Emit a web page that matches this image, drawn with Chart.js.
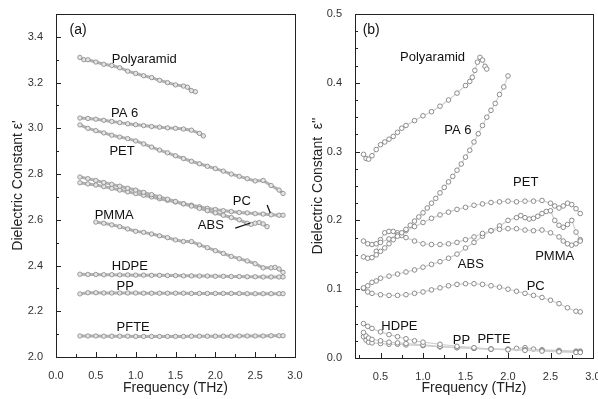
<!DOCTYPE html>
<html>
<head>
<meta charset="utf-8">
<script src="https://cdn.jsdelivr.net/npm/chart.js@4.4.1/dist/chart.umd.min.js"></script>
<style>
  html, body { margin: 0; padding: 0; background: #fff; overflow: hidden; width: 598px; height: 399px; }
  #wrap { position: relative; width: 598px; height: 399px; overflow: hidden; }
  canvas { position: absolute; top: 0; }
  #chart-a { left: 0; }
  #chart-b { left: 300px; }
</style>
</head>
<body>
<div id="wrap">
  <canvas id="chart-a" width="310" height="399"></canvas>
  <canvas id="chart-b" width="310" height="399"></canvas>
</div>
<script>
// ---------- panel (a): real part, eps' ----------
const freqA = [0.3, 0.4, 0.5, 0.6, 0.7, 0.8, 0.9, 1.0, 1.1, 1.2, 1.3, 1.4, 1.5, 1.6, 1.7, 1.8, 1.9, 2.0, 2.1, 2.2, 2.3, 2.4, 2.5, 2.6, 2.7, 2.8, 2.85];

const polyaramidA_f = [0.3, 0.35, 0.4, 0.5, 0.6, 0.7, 0.8, 0.9, 1.0, 1.1, 1.2, 1.3, 1.4, 1.5, 1.6, 1.65, 1.7, 1.75];
const polyaramidA = [3.31, 3.30, 3.30, 3.29, 3.28, 3.275, 3.265, 3.25, 3.24, 3.23, 3.222, 3.21, 3.20, 3.19, 3.185, 3.18, 3.165, 3.16];

const pa6A_f = [0.3, 0.4, 0.5, 0.6, 0.7, 0.8, 0.9, 1.0, 1.1, 1.2, 1.3, 1.4, 1.5, 1.6, 1.7, 1.8, 1.85];
const pa6A = [3.045, 3.043, 3.04, 3.035, 3.03, 3.025, 3.02, 3.016, 3.012, 3.008, 3.005, 3.002, 3.0, 2.997, 2.992, 2.978, 2.967];

const petA = [3.015, 3.0, 2.99, 2.98, 2.97, 2.962, 2.955, 2.945, 2.932, 2.918, 2.905, 2.893, 2.88, 2.868, 2.856, 2.845, 2.834, 2.824, 2.813, 2.80, 2.79, 2.78, 2.77, 2.772, 2.75, 2.73, 2.715];

const absA_f = [0.3, 0.4, 0.5, 0.6, 0.7, 0.8, 0.9, 1.0, 1.1, 1.2, 1.3, 1.4, 1.5, 1.6, 1.7, 1.8, 1.9, 2.0, 2.1, 2.2, 2.3, 2.4, 2.45, 2.5, 2.55, 2.6, 2.65];
const absA = [2.787, 2.78, 2.772, 2.763, 2.755, 2.747, 2.738, 2.73, 2.72, 2.71, 2.70, 2.69, 2.68, 2.67, 2.66, 2.65, 2.64, 2.63, 2.62, 2.61, 2.60, 2.585, 2.58, 2.585, 2.588, 2.582, 2.57];

const pcA = [2.762, 2.757, 2.752, 2.745, 2.738, 2.73, 2.722, 2.715, 2.707, 2.70, 2.692, 2.685, 2.678, 2.67, 2.664, 2.657, 2.65, 2.645, 2.64, 2.636, 2.632, 2.63, 2.627, 2.625, 2.622, 2.62, 2.62];

const pmmaA_f = [0.5, 0.6, 0.7, 0.8, 0.9, 1.0, 1.1, 1.2, 1.3, 1.4, 1.5, 1.6, 1.7, 1.8, 1.9, 2.0, 2.1, 2.2, 2.3, 2.4, 2.5, 2.6, 2.7, 2.75, 2.8, 2.85];
const pmmaA = [2.59, 2.585, 2.578, 2.57, 2.56, 2.55, 2.545, 2.538, 2.53, 2.522, 2.512, 2.505, 2.505, 2.49, 2.478, 2.465, 2.453, 2.44, 2.43, 2.42, 2.408, 2.39, 2.39, 2.392, 2.385, 2.37];

const hdpeA = [2.362, 2.361, 2.361, 2.36, 2.36, 2.359, 2.359, 2.358, 2.358, 2.357, 2.357, 2.356, 2.356, 2.355, 2.355, 2.354, 2.354, 2.353, 2.353, 2.352, 2.352, 2.351, 2.351, 2.35, 2.35, 2.35, 2.35];
const ppA = [2.276, 2.281, 2.281, 2.28, 2.28, 2.28, 2.28, 2.28, 2.279, 2.279, 2.279, 2.279, 2.279, 2.279, 2.278, 2.278, 2.278, 2.278, 2.278, 2.278, 2.278, 2.277, 2.277, 2.277, 2.277, 2.277, 2.277];
const pfteA = [2.092, 2.092, 2.092, 2.091, 2.091, 2.091, 2.091, 2.09, 2.09, 2.09, 2.09, 2.09, 2.09, 2.09, 2.091, 2.091, 2.091, 2.091, 2.091, 2.091, 2.092, 2.092, 2.092, 2.092, 2.093, 2.093, 2.093];

const xTicksA = [0.0, 0.5, 1.0, 1.5, 2.0, 2.5, 3.0];
const yTicksA = [2.0, 2.2, 2.4, 2.6, 2.8, 3.0, 3.2, 3.4];

// ---------- panel (b): imaginary part, eps'' ----------
const polyaramidB_f = [0.30, 0.33, 0.36, 0.40, 0.45, 0.50, 0.55, 0.60, 0.65, 0.70, 0.75, 0.80, 0.90, 1.00, 1.10, 1.20, 1.30, 1.40, 1.50, 1.55, 1.58, 1.61, 1.64, 1.67, 1.70, 1.73, 1.75];
const polyaramidB = [0.296, 0.29, 0.289, 0.294, 0.303, 0.31, 0.314, 0.318, 0.322, 0.328, 0.334, 0.338, 0.345, 0.352, 0.358, 0.366, 0.375, 0.385, 0.396, 0.402, 0.408, 0.418, 0.43, 0.437, 0.433, 0.424, 0.42];

const pa6B_f = [0.30, 0.35, 0.40, 0.45, 0.50, 0.55, 0.60, 0.65, 0.70, 0.75, 0.80, 0.85, 0.90, 0.95, 1.00, 1.05, 1.10, 1.15, 1.20, 1.25, 1.30, 1.35, 1.40, 1.45, 1.50, 1.55, 1.60, 1.65, 1.70, 1.75, 1.80, 1.85, 1.90, 1.95, 2.00];
const pa6B = [0.147, 0.145, 0.146, 0.15, 0.155, 0.16, 0.166, 0.172, 0.177, 0.182, 0.187, 0.193, 0.199, 0.205, 0.211, 0.218, 0.225, 0.232, 0.24, 0.248, 0.256, 0.264, 0.273, 0.282, 0.292, 0.302, 0.314, 0.326, 0.338, 0.35, 0.36, 0.37, 0.383, 0.394, 0.41];

const petB_f = [0.3, 0.35, 0.4, 0.45, 0.5, 0.6, 0.7, 0.8, 0.9, 1.0, 1.1, 1.2, 1.3, 1.4, 1.5, 1.6, 1.7, 1.8, 1.9, 2.0, 2.1, 2.2, 2.3, 2.4, 2.5, 2.55, 2.6, 2.65, 2.7, 2.75, 2.8, 2.85];
const petB = [0.17, 0.166, 0.165, 0.166, 0.168, 0.173, 0.179, 0.185, 0.191, 0.197, 0.203, 0.208, 0.212, 0.216, 0.219, 0.222, 0.224, 0.226, 0.227, 0.228, 0.227, 0.228, 0.228, 0.229, 0.225, 0.221, 0.218, 0.221, 0.225, 0.223, 0.217, 0.21];

const pmmaB_f = [0.45, 0.5, 0.55, 0.6, 0.65, 0.7, 0.75, 0.8, 0.9, 1.0, 1.1, 1.2, 1.3, 1.4, 1.5, 1.6, 1.7, 1.8, 1.9, 2.0, 2.1, 2.2, 2.3, 2.4, 2.5, 2.6, 2.65, 2.7, 2.75, 2.8, 2.85];
const pmmaB = [0.155, 0.172, 0.182, 0.184, 0.184, 0.182, 0.178, 0.175, 0.17, 0.166, 0.165, 0.165, 0.166, 0.168, 0.172, 0.176, 0.181, 0.185, 0.187, 0.188, 0.188, 0.186, 0.185, 0.186, 0.182, 0.176, 0.17, 0.166, 0.164, 0.166, 0.17];

const absB_f = [0.3, 0.35, 0.4, 0.45, 0.5, 0.6, 0.7, 0.8, 0.9, 1.0, 1.1, 1.2, 1.3, 1.4, 1.5, 1.6, 1.7, 1.8, 1.9, 2.0, 2.1, 2.15, 2.2, 2.25, 2.3, 2.35, 2.4, 2.45, 2.5, 2.55, 2.6, 2.65, 2.7, 2.75, 2.8, 2.85];
const absB = [0.102, 0.105, 0.11, 0.112, 0.116, 0.119, 0.122, 0.125, 0.128, 0.132, 0.136, 0.14, 0.145, 0.151, 0.16, 0.168, 0.177, 0.185, 0.192, 0.2, 0.204, 0.207, 0.204, 0.202, 0.203, 0.206, 0.21, 0.213, 0.214, 0.2, 0.193, 0.19, 0.194, 0.2, 0.183, 0.172];

const pcB_f = [0.3, 0.35, 0.4, 0.5, 0.6, 0.7, 0.8, 0.9, 1.0, 1.1, 1.2, 1.3, 1.4, 1.5, 1.6, 1.7, 1.8, 1.9, 2.0, 2.1, 2.2, 2.3, 2.4, 2.5, 2.6, 2.7, 2.8, 2.85];
const pcB = [0.101, 0.096, 0.094, 0.092, 0.091, 0.091, 0.092, 0.094, 0.096, 0.099, 0.102, 0.105, 0.107, 0.108, 0.108, 0.107, 0.105, 0.103, 0.1, 0.097, 0.094, 0.091, 0.088, 0.084, 0.079, 0.073, 0.068, 0.067];

const hdpeB_f = [0.3, 0.35, 0.4, 0.5, 0.6, 0.7, 0.8, 0.9, 1.0, 1.2, 1.4, 1.6, 1.8, 2.0, 2.2, 2.4, 2.6, 2.8, 2.85];
const hdpeB = [0.05, 0.046, 0.043, 0.038, 0.034, 0.031, 0.028, 0.025, 0.023, 0.02, 0.017, 0.015, 0.013, 0.012, 0.011, 0.01, 0.009, 0.008, 0.008];

const ppB_f = [0.3, 0.33, 0.36, 0.4, 0.5, 0.6, 0.7, 0.8, 1.0, 1.2, 1.4, 1.6, 1.8, 2.0, 2.2, 2.4, 2.6, 2.8, 2.85];
const ppB = [0.037, 0.032, 0.029, 0.027, 0.025, 0.023, 0.022, 0.021, 0.019, 0.017, 0.015, 0.014, 0.013, 0.012, 0.012, 0.011, 0.01, 0.009, 0.009];

const pfteB_f = [0.3, 0.33, 0.36, 0.4, 0.5, 0.6, 0.7, 0.8, 1.0, 1.2, 1.4, 1.6, 1.8, 2.0, 2.1, 2.2, 2.3, 2.4, 2.6, 2.8, 2.85];
const pfteB = [0.031, 0.026, 0.023, 0.022, 0.021, 0.02, 0.02, 0.019, 0.018, 0.016, 0.015, 0.014, 0.013, 0.013, 0.014, 0.015, 0.013, 0.012, 0.011, 0.01, 0.01];

const xTicksB = [0.5, 1.0, 1.5, 2.0, 2.5, 3.0];
const yTicksB = [0.0, 0.1, 0.2, 0.3, 0.4, 0.5];

// curve labels: [text, frequency, value]
const labelsA = [
  ["(a)", 0.17, 3.43], ["Polyaramid", 0.70, 3.30], ["PA 6", 0.69, 3.067], ["PET", 0.67, 2.90],
  ["PC", 2.22, 2.68], ["ABS", 1.78, 2.577], ["PMMA", 0.485, 2.62],
  ["HDPE", 0.70, 2.394], ["PP", 0.76, 2.31], ["PFTE", 0.76, 2.131]
];
const leadersA = [[2.65, 2.665, 2.69, 2.63], [2.25, 2.564, 2.44, 2.586]];
const labelsB = [
  ["(b)", 0.29, 0.476], ["Polyaramid", 0.73, 0.4376], ["PA 6", 1.25, 0.331], ["PET", 2.06, 0.2547],
  ["ABS", 1.41, 0.1357], ["PMMA", 2.32, 0.1473], ["PC", 2.22, 0.1038],
  ["HDPE", 0.51, 0.0457], ["PP", 1.35, 0.0254], ["PFTE", 1.64, 0.0269]
];

// ---------- helpers ----------
const FONT = '"Liberation Sans", Arial, Helvetica, sans-serif';
Chart.defaults.font.family = FONT;
Chart.defaults.color = "#333";

function pts(f, v) {
  return f.map((x, i) => ({ x: x, y: v[i] }));
}

function series(label, f, v, style) {
  return Object.assign({ label: label, data: pts(f, v), showLine: true }, style);
}

function range(from, to, step) {
  const out = [];
  for (let v = from; v <= to + 1e-9; v += step) out.push(v);
  return out;
}

function makeDecor(cfg) {
  return {
    id: "decor",
    afterDraw(chart) {
      const { ctx, chartArea: a, scales } = chart;
      const x = scales.x, y = scales.y;
      ctx.save();
      ctx.strokeStyle = "#222";
      ctx.lineWidth = 1;
      ctx.strokeRect(Math.round(a.left) + 0.5, Math.round(a.top) + 0.5, Math.round(a.right - a.left), Math.round(a.bottom - a.top));

      // inward tick marks
      ctx.beginPath();
      cfg.xMajor.forEach((v) => { const p = Math.round(x.getPixelForValue(v)) + 0.5; ctx.moveTo(p, a.bottom); ctx.lineTo(p, a.bottom - 5); });
      cfg.xMinor.forEach((v) => { const p = Math.round(x.getPixelForValue(v)) + 0.5; ctx.moveTo(p, a.bottom); ctx.lineTo(p, a.bottom - 3); });
      cfg.yMajor.forEach((v) => { const p = Math.round(y.getPixelForValue(v)) + 0.5; ctx.moveTo(a.left, p); ctx.lineTo(a.left + 5, p); });
      cfg.yMinor.forEach((v) => { const p = Math.round(y.getPixelForValue(v)) + 0.5; ctx.moveTo(a.left, p); ctx.lineTo(a.left + 3, p); });
      ctx.stroke();

      // leader lines
      ctx.strokeStyle = "#111";
      ctx.lineWidth = 1.3;
      (cfg.leaders || []).forEach(([x1, y1, x2, y2]) => {
        ctx.beginPath();
        ctx.moveTo(x.getPixelForValue(x1), y.getPixelForValue(y1));
        ctx.lineTo(x.getPixelForValue(x2), y.getPixelForValue(y2));
        ctx.stroke();
      });

      // curve labels
      ctx.fillStyle = "#111";
      ctx.textBaseline = "middle";
      ctx.textAlign = "left";
      cfg.labels.forEach(([t, fx, vy]) => {
        ctx.font = (t.startsWith("(") ? "14px " : "13px ") + FONT;
        ctx.fillText(t, x.getPixelForValue(fx), y.getPixelForValue(vy));
      });
      ctx.restore();
    },
  };
}

function makeOptions(o) {
  return {
    responsive: false,
    animation: false,
    events: [],
    layout: { padding: { left: 0, right: o.padRight, top: 14, bottom: 0 } },
    plugins: { legend: { display: false }, tooltip: { enabled: false } },
    scales: {
      x: {
        type: "linear",
        min: o.xMin,
        max: o.xMax,
        grid: { display: false },
        border: { display: false },
        afterBuildTicks: (s) => { s.ticks = o.xTicks.map((v) => ({ value: v })); },
        afterFit: (s) => { s.height = o.xHeight; },
        ticks: {
          padding: 4,
          color: "#333",
          font: { size: 11 },
          maxRotation: 0,
          callback: (v) => Number(v).toFixed(1),
        },
        title: {
          display: true,
          text: "Frequency (THz)",
          color: "#222",
          font: { size: 14 },
          padding: { top: 0, bottom: 2 },
        },
      },
      y: {
        type: "linear",
        min: o.yMin,
        max: o.yMax,
        grid: { display: false },
        border: { display: false },
        afterBuildTicks: (s) => { s.ticks = o.yTicks.map((v) => ({ value: v })); },
        afterFit: (s) => { s.width = o.yWidth; },
        ticks: {
          padding: 5,
          color: "#333",
          font: { size: 11 },
          callback: (v) => Number(v).toFixed(1),
        },
        title: {
          display: true,
          text: o.yTitle,
          color: "#222",
          font: { size: 14 },
          padding: { top: 10, bottom: 0 },
        },
      },
    },
  };
}

// ---------- panel (a) ----------
const styleA = {
  borderColor: "#b2b2b2",
  borderWidth: 3,
  pointRadius: 2.2,
  pointBorderWidth: 0.8,
  pointBorderColor: "#858585",
  pointBackgroundColor: "#e4e4e4",
  tension: 0,
};

new Chart(document.getElementById("chart-a"), {
  type: "scatter",
  data: {
    datasets: [
      series("Polyaramid", polyaramidA_f, polyaramidA, styleA),
      series("PA 6", pa6A_f, pa6A, styleA),
      series("PET", freqA, petA, styleA),
      series("ABS", absA_f, absA, styleA),
      series("PC", freqA, pcA, styleA),
      series("PMMA", pmmaA_f, pmmaA, styleA),
      series("HDPE", freqA, hdpeA, styleA),
      series("PP", freqA, ppA, styleA),
      series("PFTE", freqA, pfteA, styleA),
    ],
  },
  options: makeOptions({
    padRight: 15, xMin: 0, xMax: 3, yMin: 2.0, yMax: 3.5,
    xTicks: xTicksA, yTicks: yTicksA, xHeight: 42, yWidth: 56,
    yTitle: "Dielectric Constant \u03b5'",
  }),
  plugins: [makeDecor({
    xMajor: xTicksA, xMinor: range(0.25, 2.75, 0.5),
    yMajor: yTicksA, yMinor: range(2.1, 3.5, 0.2),
    labels: labelsA, leaders: leadersA,
  })],
});

// ---------- panel (b) ----------
const styleB = {
  borderColor: "#cfcfcf",
  borderWidth: 1.2,
  pointRadius: 2.3,
  pointBorderWidth: 0.9,
  pointBorderColor: "#808080",
  pointBackgroundColor: "#ffffff",
  tension: 0,
};

new Chart(document.getElementById("chart-b"), {
  type: "scatter",
  data: {
    datasets: [
      series("Polyaramid", polyaramidB_f, polyaramidB, styleB),
      series("PA 6", pa6B_f, pa6B, styleB),
      series("PET", petB_f, petB, styleB),
      series("PMMA", pmmaB_f, pmmaB, styleB),
      series("ABS", absB_f, absB, styleB),
      series("PC", pcB_f, pcB, styleB),
      series("HDPE", hdpeB_f, hdpeB, styleB),
      series("PP", ppB_f, ppB, styleB),
      series("PFTE", pfteB_f, pfteB, styleB),
    ],
  },
  options: makeOptions({
    padRight: 17, xMin: 0.2, xMax: 3.0, yMin: 0, yMax: 0.5,
    xTicks: xTicksB, yTicks: yTicksB, xHeight: 41, yWidth: 55,
    yTitle: "Dielectric Constant  \u03b5''",
  }),
  plugins: [makeDecor({
    xMajor: xTicksB, xMinor: range(0.25, 2.75, 0.5),
    yMajor: yTicksB, yMinor: range(0.025, 0.5, 0.025).filter((v) => Math.abs(v * 10 - Math.round(v * 10)) > 1e-6),
    labels: labelsB,
  })],
});
</script>
</body>
</html>
